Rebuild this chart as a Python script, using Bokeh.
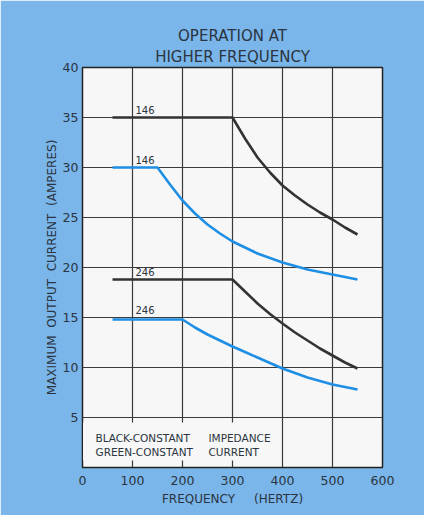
from bokeh.plotting import figure
from bokeh.models import Label, BoxAnnotation, FixedTicker, Title
from bokeh.embed import file_html
from bokeh.resources import INLINE

# ---- data ----
x_black_146 = [60, 300, 325, 350, 375, 400, 425, 450, 475, 500, 525, 550]
y_black_146 = [35, 35, 32.9, 31.0, 29.5, 28.2, 27.2, 26.3, 25.5, 24.8, 24.0, 23.3]

x_blue_146 = [60, 150, 175, 200, 225, 250, 275, 300, 350, 400, 450, 500, 550]
y_blue_146 = [30, 30, 28.3, 26.7, 25.4, 24.3, 23.4, 22.6, 21.4, 20.5, 19.8, 19.3, 18.8]

x_black_246 = [60, 300, 325, 350, 375, 400, 425, 450, 475, 500, 525, 550]
y_black_246 = [18.8, 18.8, 17.6, 16.4, 15.35, 14.4, 13.5, 12.7, 11.9, 11.2, 10.5, 9.9]

x_blue_246 = [60, 200, 225, 250, 275, 300, 325, 350, 375, 400, 450, 500, 550]
y_blue_246 = [14.8, 14.8, 14.0, 13.3, 12.7, 12.1, 11.55, 11.0, 10.45, 9.9, 9.0, 8.3, 7.8]

x_ticks = [0, 100, 200, 300, 400, 500, 600]
y_ticks = [5, 10, 15, 20, 25, 30, 35, 40]

curve_labels = ["146", "146", "246", "246"]
curve_label_y = [35.4, 30.4, 19.2, 15.4]

title_lines = ["OPERATION AT", "HIGHER FREQUENCY"]
note_left = ["BLACK-CONSTANT", "GREEN-CONSTANT"]
note_right = ["IMPEDANCE", "CURRENT"]

BLUE_BG = "#7ab6ea"
TEXT = "#2b3440"
BLACK_LINE = "#333333"
BLUE_LINE = "#1e8fe4"
FONT = "DejaVu Sans"
NB = "\u00a0"

p = figure(width=424, height=515, x_range=(0, 600), y_range=(0, 40),
           output_backend="svg", toolbar_location=None,
           frame_width=300, frame_height=400,
           min_border_left=82, min_border_right=42,
           min_border_top=67, min_border_bottom=48)

p.border_fill_color = BLUE_BG
p.background_fill_color = "#f6f7f6"
p.outline_line_color = "#222222"
p.outline_line_width = 1.5

# titles (two lines): the figure's own title ends up outermost
p.title.text = title_lines[0]
p.title.align = "center"
p.title.text_font = FONT
p.title.text_font_size = "15px"
p.title.text_font_style = "normal"
p.title.text_color = TEXT
p.title.standoff = 0
p.add_layout(Title(text=title_lines[1], align="center", text_font=FONT,
                   text_font_size="15px", text_font_style="normal",
                   text_color=TEXT, standoff=3), "above")

p.xaxis.ticker = FixedTicker(ticks=x_ticks)
p.yaxis.ticker = FixedTicker(ticks=y_ticks)
p.xgrid.ticker = FixedTicker(ticks=x_ticks)
p.ygrid.ticker = FixedTicker(ticks=y_ticks)
p.grid.grid_line_color = "#3a3a3a"
p.grid.grid_line_width = 1.2
p.grid.grid_line_alpha = 1.0

for ax in (p.xaxis, p.yaxis):
    ax.axis_line_color = None
    ax.major_tick_line_color = None
    ax.minor_tick_line_color = None
    ax.major_tick_out = 0
    ax.major_tick_in = 0
    ax.minor_tick_out = 0
    ax.minor_tick_in = 0
    ax.major_label_text_font = FONT
    ax.major_label_text_font_size = "12.5px"
    ax.major_label_text_color = TEXT
    ax.axis_label_text_font = FONT
    ax.axis_label_text_font_size = "12px"
    ax.axis_label_text_font_style = "normal"
    ax.axis_label_text_color = TEXT

p.xaxis.major_label_standoff = 8
p.yaxis.major_label_standoff = 4
p.xaxis.axis_label = "FREQUENCY" + NB * 5 + "(HERTZ)"
p.yaxis.axis_label = NB.join(["MAXIMUM", "", "OUTPUT", "", "CURRENT", "", "(AMPERES)"])
p.xaxis.axis_label_standoff = 4
p.yaxis.axis_label_standoff = 1

# curves
p.line(x_black_146, y_black_146, line_color=BLACK_LINE, line_width=2.6)
p.line(x_blue_146, y_blue_146, line_color=BLUE_LINE, line_width=2.6)
p.line(x_black_246, y_black_246, line_color=BLACK_LINE, line_width=2.6)
p.line(x_blue_246, y_blue_246, line_color=BLUE_LINE, line_width=2.6)

for txt, yy in zip(curve_labels, curve_label_y):
    p.add_layout(Label(x=106, y=yy, text=txt, text_font=FONT,
                       text_font_size="10px", text_color=TEXT,
                       text_baseline="bottom", text_align="left"))

# panel behind notes (covers grid)
p.add_layout(BoxAnnotation(left=1, right=386, bottom=0.7, top=4.5,
                           fill_color="#f6f7f6", fill_alpha=1.0,
                           line_color=None, level="underlay"))

for txt, yy in zip(note_left, [3.0, 1.6]):
    p.add_layout(Label(x=26, y=yy, text=txt, text_font=FONT,
                       text_font_size="10.5px", text_color=TEXT,
                       text_baseline="middle", text_align="left"))
for txt, yy in zip(note_right, [3.0, 1.6]):
    p.add_layout(Label(x=252, y=yy, text=txt, text_font=FONT,
                       text_font_size="10.5px", text_color=TEXT,
                       text_baseline="middle", text_align="left"))

open("out.html", "w").write(file_html(p, INLINE))
